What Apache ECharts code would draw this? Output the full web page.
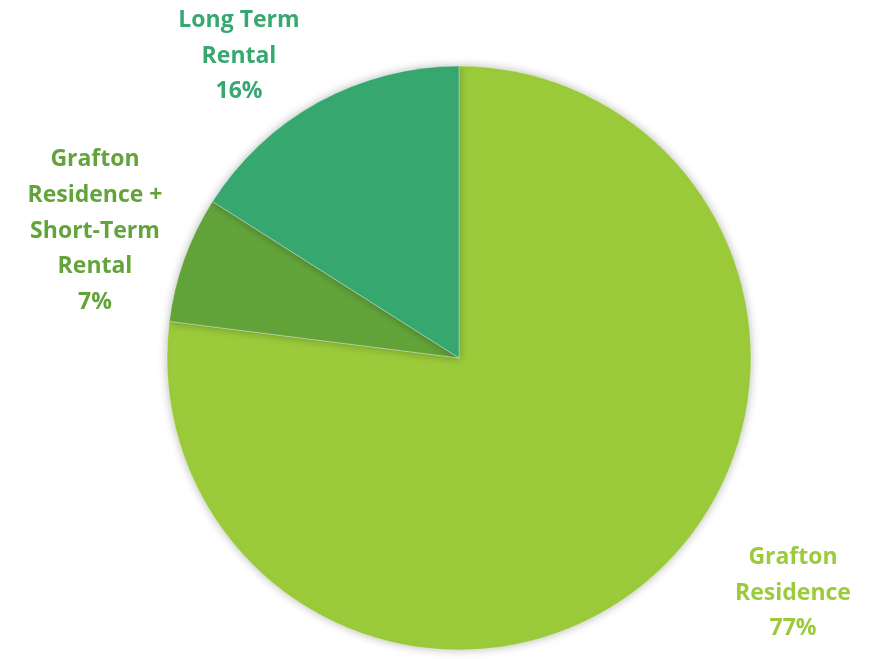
<!DOCTYPE html>
<html><head><meta charset="utf-8">
<script src="https://cdn.jsdelivr.net/npm/echarts@6/dist/echarts.min.js"></script>
<style>html,body{margin:0;padding:0;background:#fff}#c{width:873px;height:659px}</style>
</head><body><div id="c"></div>
<script>
const categories = ['Grafton\nResidence', 'Grafton\nResidence +\nShort-Term\nRental', 'Long Term\nRental'];
const values = [77, 7, 16];
const colors = ['#9BCB3B', '#62A43A', '#37A86F'];
const labelPos = [[793, 593], [95, 231], [239, 56]];

const chart = echarts.init(document.getElementById('c'));
chart.setOption({
  animation: false,
  series: [{
    type: 'pie',
    center: [459, 358],
    radius: 292,
    startAngle: 90,
    clockwise: true,
    data: categories.map((c, i) => ({
      name: c, value: values[i],
      itemStyle: { color: colors[i] },
      label: { color: colors[i] }
    })),
    itemStyle: { borderColor: 'rgba(255,255,255,0.6)', borderWidth: 0.6, shadowBlur: 10, shadowColor: 'rgba(0,0,0,0.28)' },
    label: {
      show: true, position: 'outside', overflow: 'none', width: 220,
      formatter: p => p.name + '\n' + p.value + '%',
      fontFamily: 'Open Sans', fontWeight: 'bold', fontSize: 23, lineHeight: 35.7, align: 'center'
    },
    labelLine: { show: false },
    labelLayout: p => ({ x: labelPos[p.dataIndex][0], y: labelPos[p.dataIndex][1], align: 'center', verticalAlign: 'middle' })
  }]
});
</script></body></html>
